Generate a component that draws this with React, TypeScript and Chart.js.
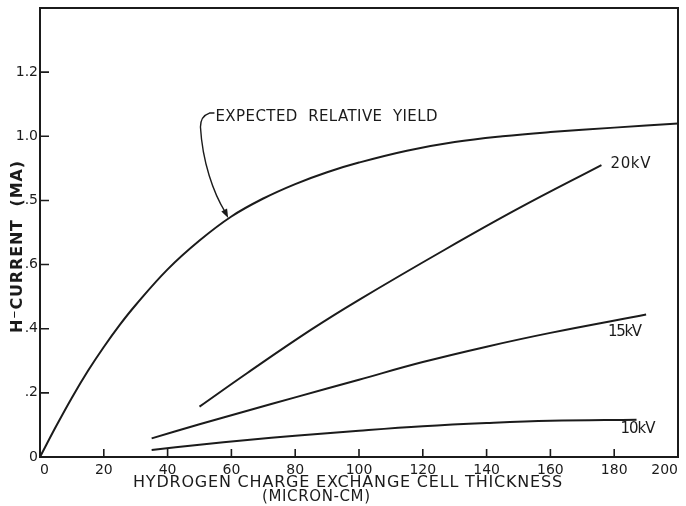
import React, { useEffect, useRef } from "react";
import { Chart, registerables } from "chart.js";

Chart.register(...registerables);

// ---- tick values and labels ----
const xTickValues = [0, 20, 40, 60, 80, 100, 120, 140, 160, 180, 200];
const yTickValues = [0, 0.2, 0.4, 0.6, 0.8, 1.0, 1.2];
const yTickLabels = ["0", ".2", ".4", ".6", ".5", "1.0", "1.2"];

// ---- series ----
const yieldX = [0, 5, 10, 15, 20, 25, 30, 40, 50, 60, 70, 80, 90, 100, 115, 130, 145, 160, 180, 200];
const yieldY = [0, 0.095, 0.185, 0.268, 0.343, 0.412, 0.474, 0.585, 0.675, 0.75, 0.806, 0.851, 0.888, 0.918, 0.955, 0.982, 1.0, 1.013, 1.027, 1.04];

const kv20X = [50, 65, 85, 100, 127, 150, 176];
const kv20Y = [0.157, 0.262, 0.397, 0.49, 0.647, 0.775, 0.91];

const kv15X = [35, 50, 65, 80, 100, 120, 140, 160, 190];
const kv15Y = [0.058, 0.102, 0.144, 0.186, 0.241, 0.296, 0.344, 0.387, 0.444];

const kv10X = [35, 50, 65, 80, 100, 120, 140, 160, 187];
const kv10Y = [0.022, 0.038, 0.053, 0.066, 0.082, 0.096, 0.106, 0.113, 0.116];

// ---- texts ----
const seriesLabels = ["20kV", "15kV", "10kV"];
const annotationText = "EXPECTED  RELATIVE  YIELD";
const xTitle = "HYDROGEN CHARGE EXCHANGE CELL THICKNESS";
const xSubtitle = "(MICRON-CM)";
const yTitle = "H\u207BCURRENT  (MA)";

// annotation anchor (data units)
const annotationAt = [55, 1.06];
const arrowTipAt = [59, 0.745];

const INK = "#1b1b1b";
const FONT = "'DejaVu Sans', sans-serif";

const pts = (xs: number[], ys: number[]) => xs.map((x, i) => ({ x, y: ys[i] }));

function fitText(ctx: CanvasRenderingContext2D, text: string, left: number, cy: number, font: string, width: number) {
  ctx.font = font;
  (ctx as any).letterSpacing = "0px";
  const w = ctx.measureText(text).width;
  const ls = text.length > 1 ? (width - w) / (text.length - 1) : 0;
  (ctx as any).letterSpacing = ls.toFixed(2) + "px";
  ctx.textAlign = "left";
  ctx.textBaseline = "middle";
  ctx.fillText(text, left, cy);
  (ctx as any).letterSpacing = "0px";
}

const decor = {
  id: "decor",
  afterDraw(chart: any) {
    const { ctx, chartArea: a, scales } = chart;
    const xs = scales.x;
    const ys = scales.y;
    ctx.save();
    ctx.strokeStyle = INK;
    ctx.fillStyle = INK;
    ctx.lineCap = "butt";
    // frame
    ctx.lineWidth = 2;
    ctx.strokeRect(a.left, a.top, a.right - a.left, a.bottom - a.top);
    // inward ticks
    ctx.lineWidth = 1.6;
    ctx.beginPath();
    xTickValues.forEach((v) => {
      const px = xs.getPixelForValue(v);
      ctx.moveTo(px, a.bottom);
      ctx.lineTo(px, a.bottom - 8);
    });
    yTickValues.forEach((v) => {
      const py = ys.getPixelForValue(v);
      ctx.moveTo(a.left, py);
      ctx.lineTo(a.left + 9, py);
    });
    ctx.stroke();

    // axis titles
    fitText(ctx, xTitle, 133, 482.5, `16px ${FONT}`, 429);
    fitText(ctx, xSubtitle, 262, 497, `15px ${FONT}`, 108);
    ctx.save();
    ctx.translate(17.5, 247);
    ctx.rotate(-Math.PI / 2);
    fitText(ctx, yTitle, -86, 0, `bold 16px ${FONT}`, 172);
    ctx.restore();

    // series end labels
    const ends = [
      [kv20X[kv20X.length - 1], kv20Y[kv20Y.length - 1], 9, -1, 40],
      [kv15X[kv15X.length - 1], kv15Y[kv15Y.length - 1], -38, 18, 34],
      [kv10X[kv10X.length - 1], kv10Y[kv10Y.length - 1], -16, 9, 35],
    ];
    ends.forEach((e, i) => {
      const px = xs.getPixelForValue(e[0]);
      const py = ys.getPixelForValue(e[1]);
      fitText(ctx, seriesLabels[i], px + e[2], py + e[3], `15px ${FONT}`, e[4]);
    });

    // annotation
    const ax = xs.getPixelForValue(annotationAt[0]);
    const ay = ys.getPixelForValue(annotationAt[1]);
    fitText(ctx, annotationText, ax, ay, `15px ${FONT}`, 222);
    const tx = xs.getPixelForValue(arrowTipAt[0]);
    const ty = ys.getPixelForValue(arrowTipAt[1]);
    ctx.lineWidth = 1.4;
    ctx.beginPath();
    ctx.moveTo(ax - 1, ay - 4);
    ctx.lineTo(ax - 6, ay - 4);
    ctx.quadraticCurveTo(ax - 15, ay - 1, ax - 15, ay + 10);
    ctx.bezierCurveTo(ax - 13, ay + 45, ax - 2, ay + 76, tx - 3, ty - 6);
    ctx.stroke();
    // arrow head
    const ang = Math.atan2(6, 3);
    ctx.save();
    ctx.translate(tx, ty);
    ctx.rotate(ang);
    ctx.beginPath();
    ctx.moveTo(0, 0);
    ctx.lineTo(-9, -3.2);
    ctx.lineTo(-9, 3.2);
    ctx.closePath();
    ctx.fill();
    ctx.restore();
    ctx.restore();
  },
};

export default function App() {
  const ref = useRef<HTMLCanvasElement | null>(null);
  useEffect(() => {
    if (!ref.current) return;
    const ds = (data: { x: number; y: number }[]) => ({
      data,
      borderColor: INK,
      borderWidth: 2,
      pointRadius: 0,
      fill: false,
      tension: 0.4,
      clip: false as any,
    });
    const chart = new Chart(ref.current, {
      type: "line",
      data: {
        datasets: [
          { label: "Expected relative yield", ...ds(pts(yieldX, yieldY)) },
          { label: "20kV", ...ds(pts(kv20X, kv20Y)) },
          { label: "15kV", ...ds(pts(kv15X, kv15Y)) },
          { label: "10kV", ...ds(pts(kv10X, kv10Y)) },
        ],
      },
      options: {
        animation: false,
        responsive: false,
        devicePixelRatio: 1,
        layout: { padding: { top: 8, right: 8, left: 0, bottom: 0 } },
        plugins: { legend: { display: false }, tooltip: { enabled: false } },
        scales: {
          x: {
            type: "linear",
            min: 0,
            max: 200,
            afterBuildTicks: (s: any) => {
              s.ticks = xTickValues.map((v) => ({ value: v }));
            },
            afterFit: (s: any) => {
              s.height = 49;
              s.paddingLeft = 0;
              s.paddingRight = 0;
            },
            ticks: {
              autoSkip: false,
              maxRotation: 0,
              padding: 5,
              align: "inner",
              color: INK,
              font: { family: FONT, size: 14 },
            },
            grid: { display: false, drawTicks: false },
            border: { display: false },
          },
          y: {
            type: "linear",
            min: 0,
            max: 1.4,
            afterBuildTicks: (s: any) => {
              s.ticks = yTickValues.map((v) => ({ value: v }));
            },
            afterFit: (s: any) => {
              s.width = 40;
              s.paddingTop = 0;
              s.paddingBottom = 0;
            },
            ticks: {
              autoSkip: false,
              padding: 2,
              color: INK,
              font: { family: FONT, size: 14 },
              callback: (v: any) => {
                const i = yTickValues.findIndex((t) => Math.abs(t - Number(v)) < 1e-6);
                return i >= 0 ? yTickLabels[i] : "";
              },
            },
            grid: { display: false, drawTicks: false },
            border: { display: false },
          },
        },
      },
      plugins: [decor],
    });
    return () => chart.destroy();
  }, []);
  return (
    <div style={{ position: "absolute", left: 0, top: 0, width: 686, height: 506, background: "#fff" }}>
      <canvas ref={ref} width={686} height={506} style={{ display: "block" }} />
    </div>
  );
}
